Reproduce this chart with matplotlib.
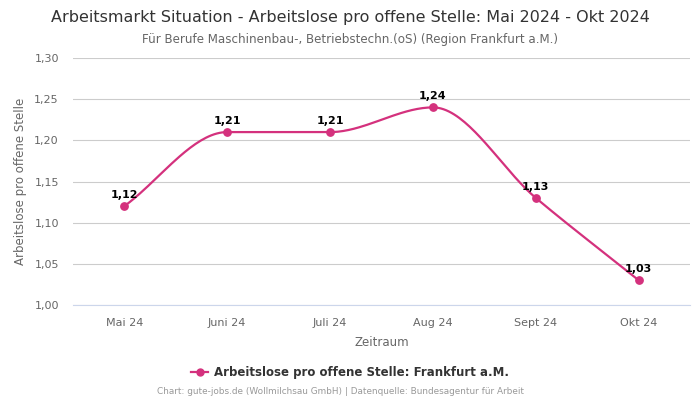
import numpy as np
import matplotlib
matplotlib.use("Agg")
import matplotlib.pyplot as plt
from matplotlib.lines import Line2D

months = ["Mai 24", "Juni 24", "Juli 24", "Aug 24", "Sept 24", "Okt 24"]
values = [1.12, 1.21, 1.21, 1.24, 1.13, 1.03]
yticks = [1.00, 1.05, 1.10, 1.15, 1.20, 1.25, 1.30]

pink = "#d4317d"


def monotone_curve(x, y, n=40):
    # monotone cubic hermite, only used to draw the smooth line shape
    x = np.asarray(x, float)
    y = np.asarray(y, float)
    h = np.diff(x)
    d = np.diff(y) / h
    m = np.zeros_like(y)
    m[0], m[-1] = d[0], d[-1]
    for i in range(1, len(y) - 1):
        if d[i - 1] * d[i] <= 0:
            m[i] = 0
        else:
            w1 = 2 * h[i] + h[i - 1]
            w2 = h[i] + 2 * h[i - 1]
            m[i] = (w1 + w2) / (w1 / d[i - 1] + w2 / d[i])
    xs, ys = [], []
    for i in range(len(x) - 1):
        t = np.linspace(0, 1, n)
        h00 = 2 * t**3 - 3 * t**2 + 1
        h10 = t**3 - 2 * t**2 + t
        h01 = -2 * t**3 + 3 * t**2
        h11 = t**3 - t**2
        xs.append(x[i] + t * h[i])
        ys.append(h00 * y[i] + h10 * h[i] * m[i] + h01 * y[i + 1] + h11 * h[i] * m[i + 1])
    return np.concatenate(xs), np.concatenate(ys)


def fmt(v):
    return f"{v:.2f}".replace(".", ",")


fig = plt.figure(figsize=(7, 4), dpi=100)
ax = fig.add_axes([0.104, 0.2375, 0.882, 0.6175])

xpos = np.arange(len(months))
cx, cy = monotone_curve(xpos, values)
ax.plot(cx, cy, color=pink, lw=1.6, zorder=3)
ax.scatter(xpos, values, color=pink, s=28, zorder=4)

for x, v in zip(xpos, values):
    ax.annotate(fmt(v), (x, v), xytext=(0, 4.5), textcoords="offset points",
                ha="center", va="bottom", fontsize=8, fontweight="bold", color="black", zorder=5)

ax.set_xlim(-0.5, len(months) - 0.5)
ax.set_ylim(1.00, 1.30)
ax.set_yticks(yticks)
ax.set_yticklabels([fmt(t) for t in yticks])
ax.set_xticks(xpos)
ax.set_xticklabels(months)
ax.tick_params(axis="both", length=0, labelsize=8, colors="#666666")
ax.tick_params(axis="x", pad=9)
ax.tick_params(axis="y", pad=10)
ax.grid(axis="y", color="#cccccc", lw=0.8)
ax.set_axisbelow(True)
for s in ["top", "right", "left"]:
    ax.spines[s].set_visible(False)
ax.spines["bottom"].set_color("#ccd6eb")
ax.spines["bottom"].set_linewidth(0.8)

ax.set_xlabel("Zeitraum", fontsize=8.5, color="#666666", labelpad=6)
ax.set_ylabel("Arbeitslose pro offene Stelle", fontsize=8.5, color="#666666", labelpad=5)

fig.text(0.5, 0.957, "Arbeitsmarkt Situation - Arbeitslose pro offene Stelle: Mai 2024 - Okt 2024",
         ha="center", va="center", fontsize=11.5, color="#333333")
fig.text(0.5, 0.902, "Für Berufe Maschinenbau-, Betriebstechn.(oS) (Region Frankfurt a.M.)",
         ha="center", va="center", fontsize=8.6, color="#666666")

handle = Line2D([0], [0], color=pink, lw=1.6, marker="o", markersize=5)
fig.legend([handle], ["Arbeitslose pro offene Stelle: Frankfurt a.M."], loc="center",
           bbox_to_anchor=(0.5, 0.068), frameon=False, handlelength=1.4, handletextpad=0.5,
           prop={"size": 8.5, "weight": "bold"}, labelcolor="#333333")

fig.text(0.486, 0.02, "Chart: gute-jobs.de (Wollmilchsau GmbH) | Datenquelle: Bundesagentur für Arbeit",
         ha="center", va="center", fontsize=6.4, color="#999999")

fig.savefig("out.png", dpi=100)
